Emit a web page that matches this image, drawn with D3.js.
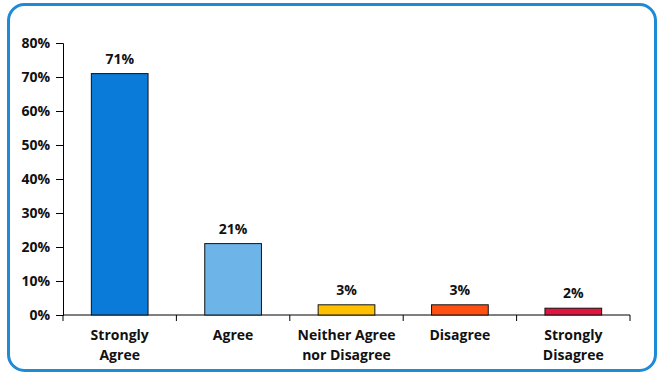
<!DOCTYPE html>
<html>
<head>
<meta charset="utf-8">
<script src="https://cdn.jsdelivr.net/npm/d3@7"></script>
<style>
  body { margin: 0; background: #fff; }
  text { font-family: "Open Sans", "Noto Sans", sans-serif; font-weight: bold; fill: #111; }
</style>
</head>
<body>
<svg id="chart" width="666" height="379"></svg>
<script>
// Response categories (two-line labels) and share of answers
const categories = [
  ['Strongly', 'Agree'],
  ['Agree'],
  ['Neither Agree', 'nor Disagree'],
  ['Disagree'],
  ['Strongly', 'Disagree']
];
const values = [0.71, 0.21, 0.03, 0.03, 0.02];
const barColors = ['#0a7bd8', '#6db5e8', '#ffc000', '#ff5012', '#e0153f'];
const yTicks = [0, 0.1, 0.2, 0.3, 0.4, 0.5, 0.6, 0.7, 0.8];

const svg = d3.select('#chart');

// Rounded blue frame
svg.append('rect')
  .attr('x', 8.5).attr('y', 4.5)
  .attr('width', 647).attr('height', 366)
  .attr('rx', 16)
  .attr('fill', '#fff')
  .attr('stroke', '#1f8ad6')
  .attr('stroke-width', 3);

const plot = { left: 63, right: 630, top: 43, bottom: 315 };

const x = d3.scaleBand()
  .domain(d3.range(categories.length))
  .range([plot.left, plot.right])
  .paddingInner(0.5)
  .paddingOuter(0.25);

const y = d3.scaleLinear().domain([0, 0.8]).range([plot.bottom, plot.top]);

// Y axis
const yAxis = svg.append('g')
  .attr('transform', `translate(${plot.left},0)`)
  .call(d3.axisLeft(y).tickValues(yTicks).tickFormat(d3.format('.0%')).tickSize(7).tickPadding(6));
yAxis.select('.domain').attr('stroke', '#000');
yAxis.selectAll('.tick line').attr('stroke', '#000');
yAxis.selectAll('.tick text').style('font-size', '14px');

// X axis with ticks between categories
const xAxis = svg.append('g').attr('transform', `translate(0,${plot.bottom})`);
xAxis.append('line')
  .attr('x1', plot.left).attr('x2', plot.right)
  .attr('stroke', '#000');
const boundaries = d3.range(categories.length + 1).map(i => plot.left + i * x.step());
xAxis.selectAll('line.tick')
  .data(boundaries)
  .join('line')
  .attr('class', 'tick')
  .attr('x1', d => d).attr('x2', d => d)
  .attr('y1', 0).attr('y2', 6)
  .attr('stroke', '#000');

// Category labels
const labels = svg.append('g').selectAll('text')
  .data(categories)
  .join('text')
  .attr('text-anchor', 'middle')
  .style('font-size', '14px')
  .attr('transform', (d, i) => `translate(${x(i) + x.bandwidth() / 2},340)`);
labels.selectAll('tspan')
  .data(d => d)
  .join('tspan')
  .attr('x', 0)
  .attr('dy', (d, i) => i === 0 ? 0 : 20)
  .text(d => d);

// Bars
svg.append('g').selectAll('rect')
  .data(values)
  .join('rect')
  .attr('x', (d, i) => x(i))
  .attr('y', d => y(d))
  .attr('width', x.bandwidth())
  .attr('height', d => plot.bottom - y(d))
  .attr('fill', (d, i) => barColors[i])
  .attr('stroke', '#111')
  .attr('stroke-width', 1);

// Value labels
svg.append('g').selectAll('text')
  .data(values)
  .join('text')
  .attr('text-anchor', 'middle')
  .style('font-size', '14px')
  .attr('x', (d, i) => x(i) + x.bandwidth() / 2)
  .attr('y', d => y(d) - 10)
  .text(d => d3.format('.0%')(d));
</script>
</body>
</html>
